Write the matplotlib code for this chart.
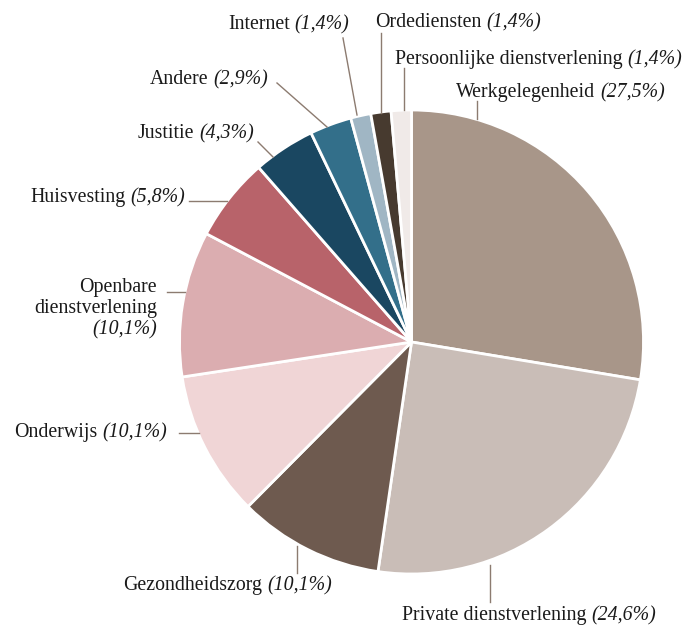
import matplotlib.pyplot as plt

plt.rcParams['font.family'] = ['Liberation Serif', 'DejaVu Serif']

W, H = 694, 628

categories = ['Werkgelegenheid', 'Private dienstverlening', 'Gezondheidszorg',
              'Onderwijs', 'Openbare\ndienstverlening', 'Huisvesting', 'Justitie',
              'Andere', 'Internet', 'Ordediensten', 'Persoonlijke dienstverlening']
shares = [27.5, 24.6, 10.1, 10.1, 10.1, 5.8, 4.3, 2.9, 1.4, 1.4, 1.4]
colors = ['#a89689', '#c9bdb7', '#6e5a4f', '#f0d5d6', '#dbadb0', '#b8636a',
          '#1a4761', '#336f8a', '#a0b6c4', '#473a2f', '#f0eae8']

# label layout in pixels (x, baseline y from top), alignment, leader line
label_pos = [(456, 97, 'left'), (402, 620, 'left'), (123, 590, 'left'),
             (14, 437, 'left'), (157, 292, 'right'), (30, 202, 'left'),
             (138, 138, 'left'), (150, 84, 'left'), (228, 29, 'left'),
             (375, 27, 'left'), (395, 64, 'left')]
leaders = [((477, 101), (477, 119)), ((490, 565), (490, 602)),
           ((297, 546), (297, 573)), ((179, 433), (199, 433)),
           ((167, 292), (185, 292)), ((189, 201), (227, 201)),
           ((258, 142), (273, 157)), ((277, 83), (327, 127)),
           ((343, 38), (357, 115)), ((381, 33), (381, 113)),
           ((404, 68), (404, 110))]

fig = plt.figure(figsize=(W / 100, H / 100), dpi=100)
ax = fig.add_axes([0, 0, 1, 1])

ax.pie(shares, colors=colors, startangle=90, counterclock=False,
       center=(411.5, H - 342), radius=232,
       wedgeprops=dict(edgecolor='white', linewidth=2))
ax.set_xlim(0, W)
ax.set_ylim(0, H)
ax.set_aspect('equal')
ax.axis('off')

for (p0, p1) in leaders:
    ax.plot([p0[0], p1[0]], [H - p0[1], H - p1[1]], color='#8c7b70', lw=1)

fs = 14.3
tc = '#1a1a1a'
for name, val, (x, y, ha) in zip(categories, shares, label_pos):
    pct = '(%s%%)' % ('%.1f' % val).replace('.', ',')
    lines = name.split('\n')
    if len(lines) == 1:
        t = ax.text(x, H - y, name, ha='left', va='baseline', fontsize=fs, color=tc)
        ax.annotate(pct, xy=(1, 0), xycoords=t, xytext=(3.5, 0),
                    textcoords='offset points', ha='left', va='bottom',
                    fontsize=fs, color=tc, style='italic')
    else:
        for i, ln in enumerate(lines + [pct]):
            ax.text(x, H - (y + 21 * i), ln, ha=ha, va='baseline', fontsize=fs,
                    color=tc, style='italic' if ln == pct else 'normal')

fig.savefig('out.png', dpi=100)
